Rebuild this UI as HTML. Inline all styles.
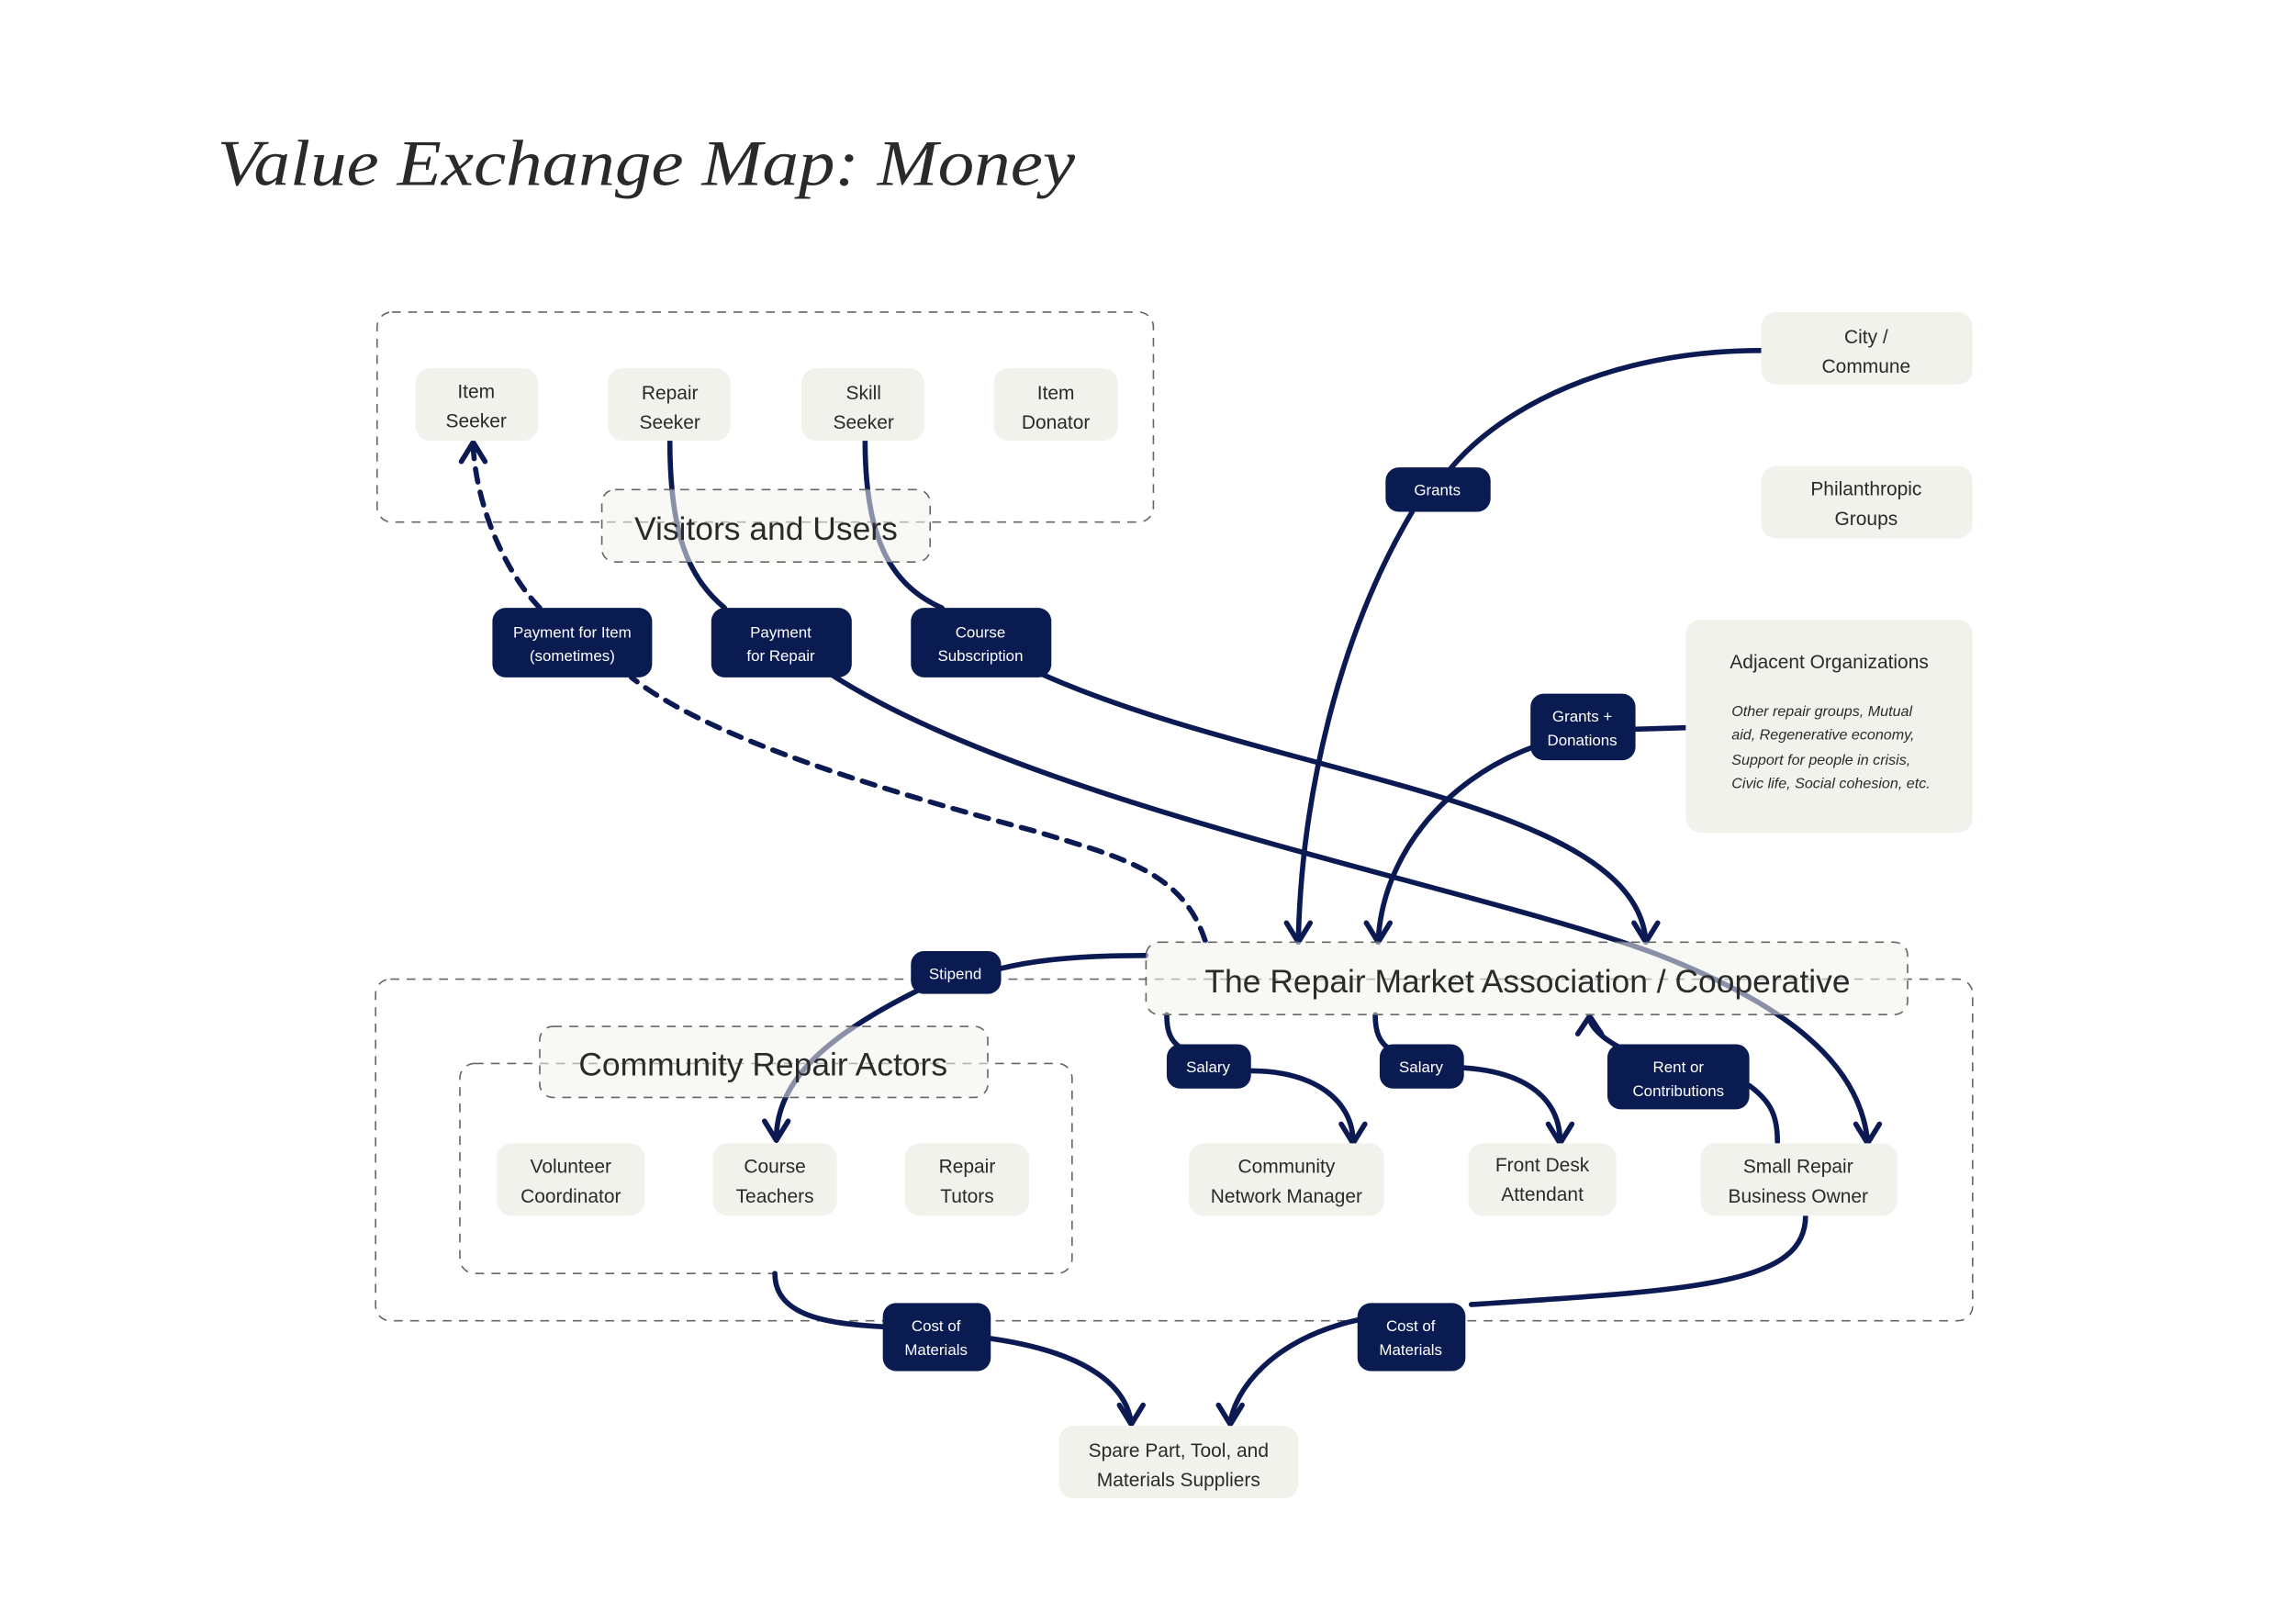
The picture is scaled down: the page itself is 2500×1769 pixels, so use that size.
<!DOCTYPE html>
<html><head><meta charset="utf-8"><style>html,body{margin:0;padding:0;background:#fff;}svg{display:block}</style></head>
<body>
<svg width="2500" height="1769" viewBox="0 0 1552 1098" preserveAspectRatio="none" xmlns="http://www.w3.org/2000/svg" font-family="Liberation Sans, sans-serif">
<rect width="1552" height="1098" fill="#fff"/>
<text x="147" y="125" font-family="Liberation Serif, serif" font-style="italic" font-size="44" fill="#2a2a2a" textLength="580" lengthAdjust="spacingAndGlyphs">Value Exchange Map: Money</text>

<!-- group boxes -->
<g fill="none" stroke="#666" stroke-width="1" stroke-dasharray="6,5">
<rect x="255" y="211" width="525" height="142" rx="10"/>
<rect x="254" y="662" width="1080" height="231" rx="10"/>
<rect x="311" y="719" width="414" height="142" rx="10"/>
</g>

<!-- connectors -->
<g fill="none" stroke="#0b1a52" stroke-width="3.5" stroke-linecap="round" stroke-linejoin="round">
<path d="M1191,237 C1090,237 1015,275 980,318"/>
<path d="M955,346 C905,430 880,540 878,636"/>
<path d="M1140,492 L1106,493"/>
<path d="M1037,505 C975,528 935,580 932,636"/>
<path d="M815,636 C800,590 760,580 700,562 C600,535 480,500 427,458" stroke-dasharray="9,7"/>
<path d="M365,411 C340,385 322,340 320,302" stroke-dasharray="9,7"/>
<path d="M453,298 C453,360 465,390 490,411"/>
<path d="M562,456 C700,545 1000,600 1120,645 C1210,680 1258,720 1263,772"/>
<path d="M585,298 C585,360 600,395 637,411"/>
<path d="M705,456 C860,525 1105,540 1113,636"/>
<path d="M775,646 C730,646 700,649 676,655"/>
<path d="M620,670 C560,700 525,730 525,770"/>
<path d="M789,686 C789,698 792,704 798,708"/>
<path d="M846,724 C890,724 915,745 915,772"/>
<path d="M930,686 C930,698 933,704 938,708"/>
<path d="M990,722 C1035,725 1055,745 1055,772"/>
<path d="M1202,772 C1202,755 1198,745 1183,734"/>
<path d="M1095,708 C1080,700 1075,692 1075,688"/>
<path d="M524,861 C524,890 560,895 597,897"/>
<path d="M670,905 C740,915 762,940 765,962"/>
<path d="M1221,822 C1221,868 1150,872 995,882"/>
<path d="M920,892 C860,905 835,940 832,962"/>
<!-- arrowheads -->
<polyline points="870,624 878,637 886,624"/>
<polyline points="924,624 932,637 940,624"/>
<polyline points="1105,624 1113,637 1121,624"/>
<polyline points="1255,760 1263,773 1271,760"/>
<polyline points="517,758 525,771 533,758"/>
<polyline points="907,760 915,773 923,760"/>
<polyline points="1047,760 1055,773 1063,760"/>
<polyline points="1067,699 1075,687 1083,699"/>
<polyline points="312,312 320,299 328,312"/>
<polyline points="757,950 765,963 773,950"/>
<polyline points="824,950 832,963 840,950"/>
</g>

<!-- translucent dashed labels -->
<g fill="#f2f2ed" fill-opacity="0.55" stroke="#666" stroke-width="1" stroke-dasharray="6,5">
<rect x="407" y="331" width="222" height="49" rx="9"/>
<rect x="775" y="637" width="515" height="49" rx="9"/>
<rect x="365" y="694" width="303" height="48" rx="9"/>
</g>
<g fill="#2a2a2a" font-size="22" text-anchor="middle">
<text x="518" y="365">Visitors and Users</text>
<text x="1033" y="671">The Repair Market Association / Cooperative</text>
<text x="516" y="727">Community Repair Actors</text>
</g>

<!-- nodes -->
<g fill="#f2f2ed">
<rect x="281" y="249" width="83" height="49" rx="10"/>
<rect x="411" y="249" width="83" height="49" rx="10"/>
<rect x="542" y="249" width="83" height="49" rx="10"/>
<rect x="672" y="249" width="84" height="49" rx="10"/>
<rect x="1191" y="211" width="143" height="49" rx="10"/>
<rect x="1191" y="315" width="143" height="49" rx="10"/>
<rect x="1140" y="419" width="194" height="144" rx="10"/>
<rect x="336" y="773" width="100" height="49" rx="10"/>
<rect x="482" y="773" width="84" height="49" rx="10"/>
<rect x="612" y="773" width="84" height="49" rx="10"/>
<rect x="804" y="773" width="132" height="49" rx="10"/>
<rect x="993" y="773" width="100" height="49" rx="10"/>
<rect x="1150" y="773" width="133" height="49" rx="10"/>
<rect x="716" y="964" width="162" height="49" rx="10"/>
</g>
<g fill="#2a2a2a" font-size="13" text-anchor="middle">
<text x="322" y="269">Item</text><text x="322" y="289">Seeker</text>
<text x="453" y="270">Repair</text><text x="453" y="290">Seeker</text>
<text x="584" y="270">Skill</text><text x="584" y="290">Seeker</text>
<text x="714" y="270">Item</text><text x="714" y="290">Donator</text>
<text x="1262" y="232">City /</text><text x="1262" y="252">Commune</text>
<text x="1262" y="335">Philanthropic</text><text x="1262" y="355">Groups</text>
<text x="1237" y="452">Adjacent Organizations</text>
<text x="386" y="793">Volunteer</text><text x="386" y="813">Coordinator</text>
<text x="524" y="793">Course</text><text x="524" y="813">Teachers</text>
<text x="654" y="793">Repair</text><text x="654" y="813">Tutors</text>
<text x="870" y="793">Community</text><text x="870" y="813">Network Manager</text>
<text x="1043" y="792">Front Desk</text><text x="1043" y="812">Attendant</text>
<text x="1216" y="793">Small Repair</text><text x="1216" y="813">Business Owner</text>
<text x="797" y="985">Spare Part, Tool, and</text><text x="797" y="1005">Materials Suppliers</text>
</g>
<g fill="#2a2a2a" font-size="10" font-style="italic">
<text x="1171" y="484">Other repair groups, Mutual</text>
<text x="1171" y="500">aid, Regenerative economy,</text>
<text x="1171" y="517">Support for people in crisis,</text>
<text x="1171" y="533">Civic life, Social cohesion, etc.</text>
</g>

<!-- chips -->
<g fill="#0a1b52">
<rect x="333" y="411" width="108" height="47" rx="9"/>
<rect x="481" y="411" width="95" height="47" rx="9"/>
<rect x="616" y="411" width="95" height="47" rx="9"/>
<rect x="937" y="316" width="71" height="30" rx="9"/>
<rect x="1035" y="469" width="71" height="45" rx="9"/>
<rect x="616" y="643" width="61" height="29" rx="9"/>
<rect x="789" y="706" width="57" height="30" rx="9"/>
<rect x="933" y="706" width="57" height="30" rx="9"/>
<rect x="1087" y="706" width="96" height="44" rx="9"/>
<rect x="597" y="881" width="73" height="46" rx="9"/>
<rect x="918" y="881" width="73" height="46" rx="9"/>
</g>
<g fill="#fff" font-size="10.5" text-anchor="middle">
<text x="387" y="431">Payment for Item</text><text x="387" y="447">(sometimes)</text>
<text x="528" y="431">Payment</text><text x="528" y="447">for Repair</text>
<text x="663" y="431">Course</text><text x="663" y="447">Subscription</text>
<text x="972" y="335">Grants</text>
<text x="1070" y="488">Grants +</text><text x="1070" y="504">Donations</text>
<text x="646" y="662">Stipend</text>
<text x="817" y="725">Salary</text>
<text x="961" y="725">Salary</text>
<text x="1135" y="725">Rent or</text><text x="1135" y="741">Contributions</text>
<text x="633" y="900">Cost of</text><text x="633" y="916">Materials</text>
<text x="954" y="900">Cost of</text><text x="954" y="916">Materials</text>
</g>
</svg>
</body></html>
